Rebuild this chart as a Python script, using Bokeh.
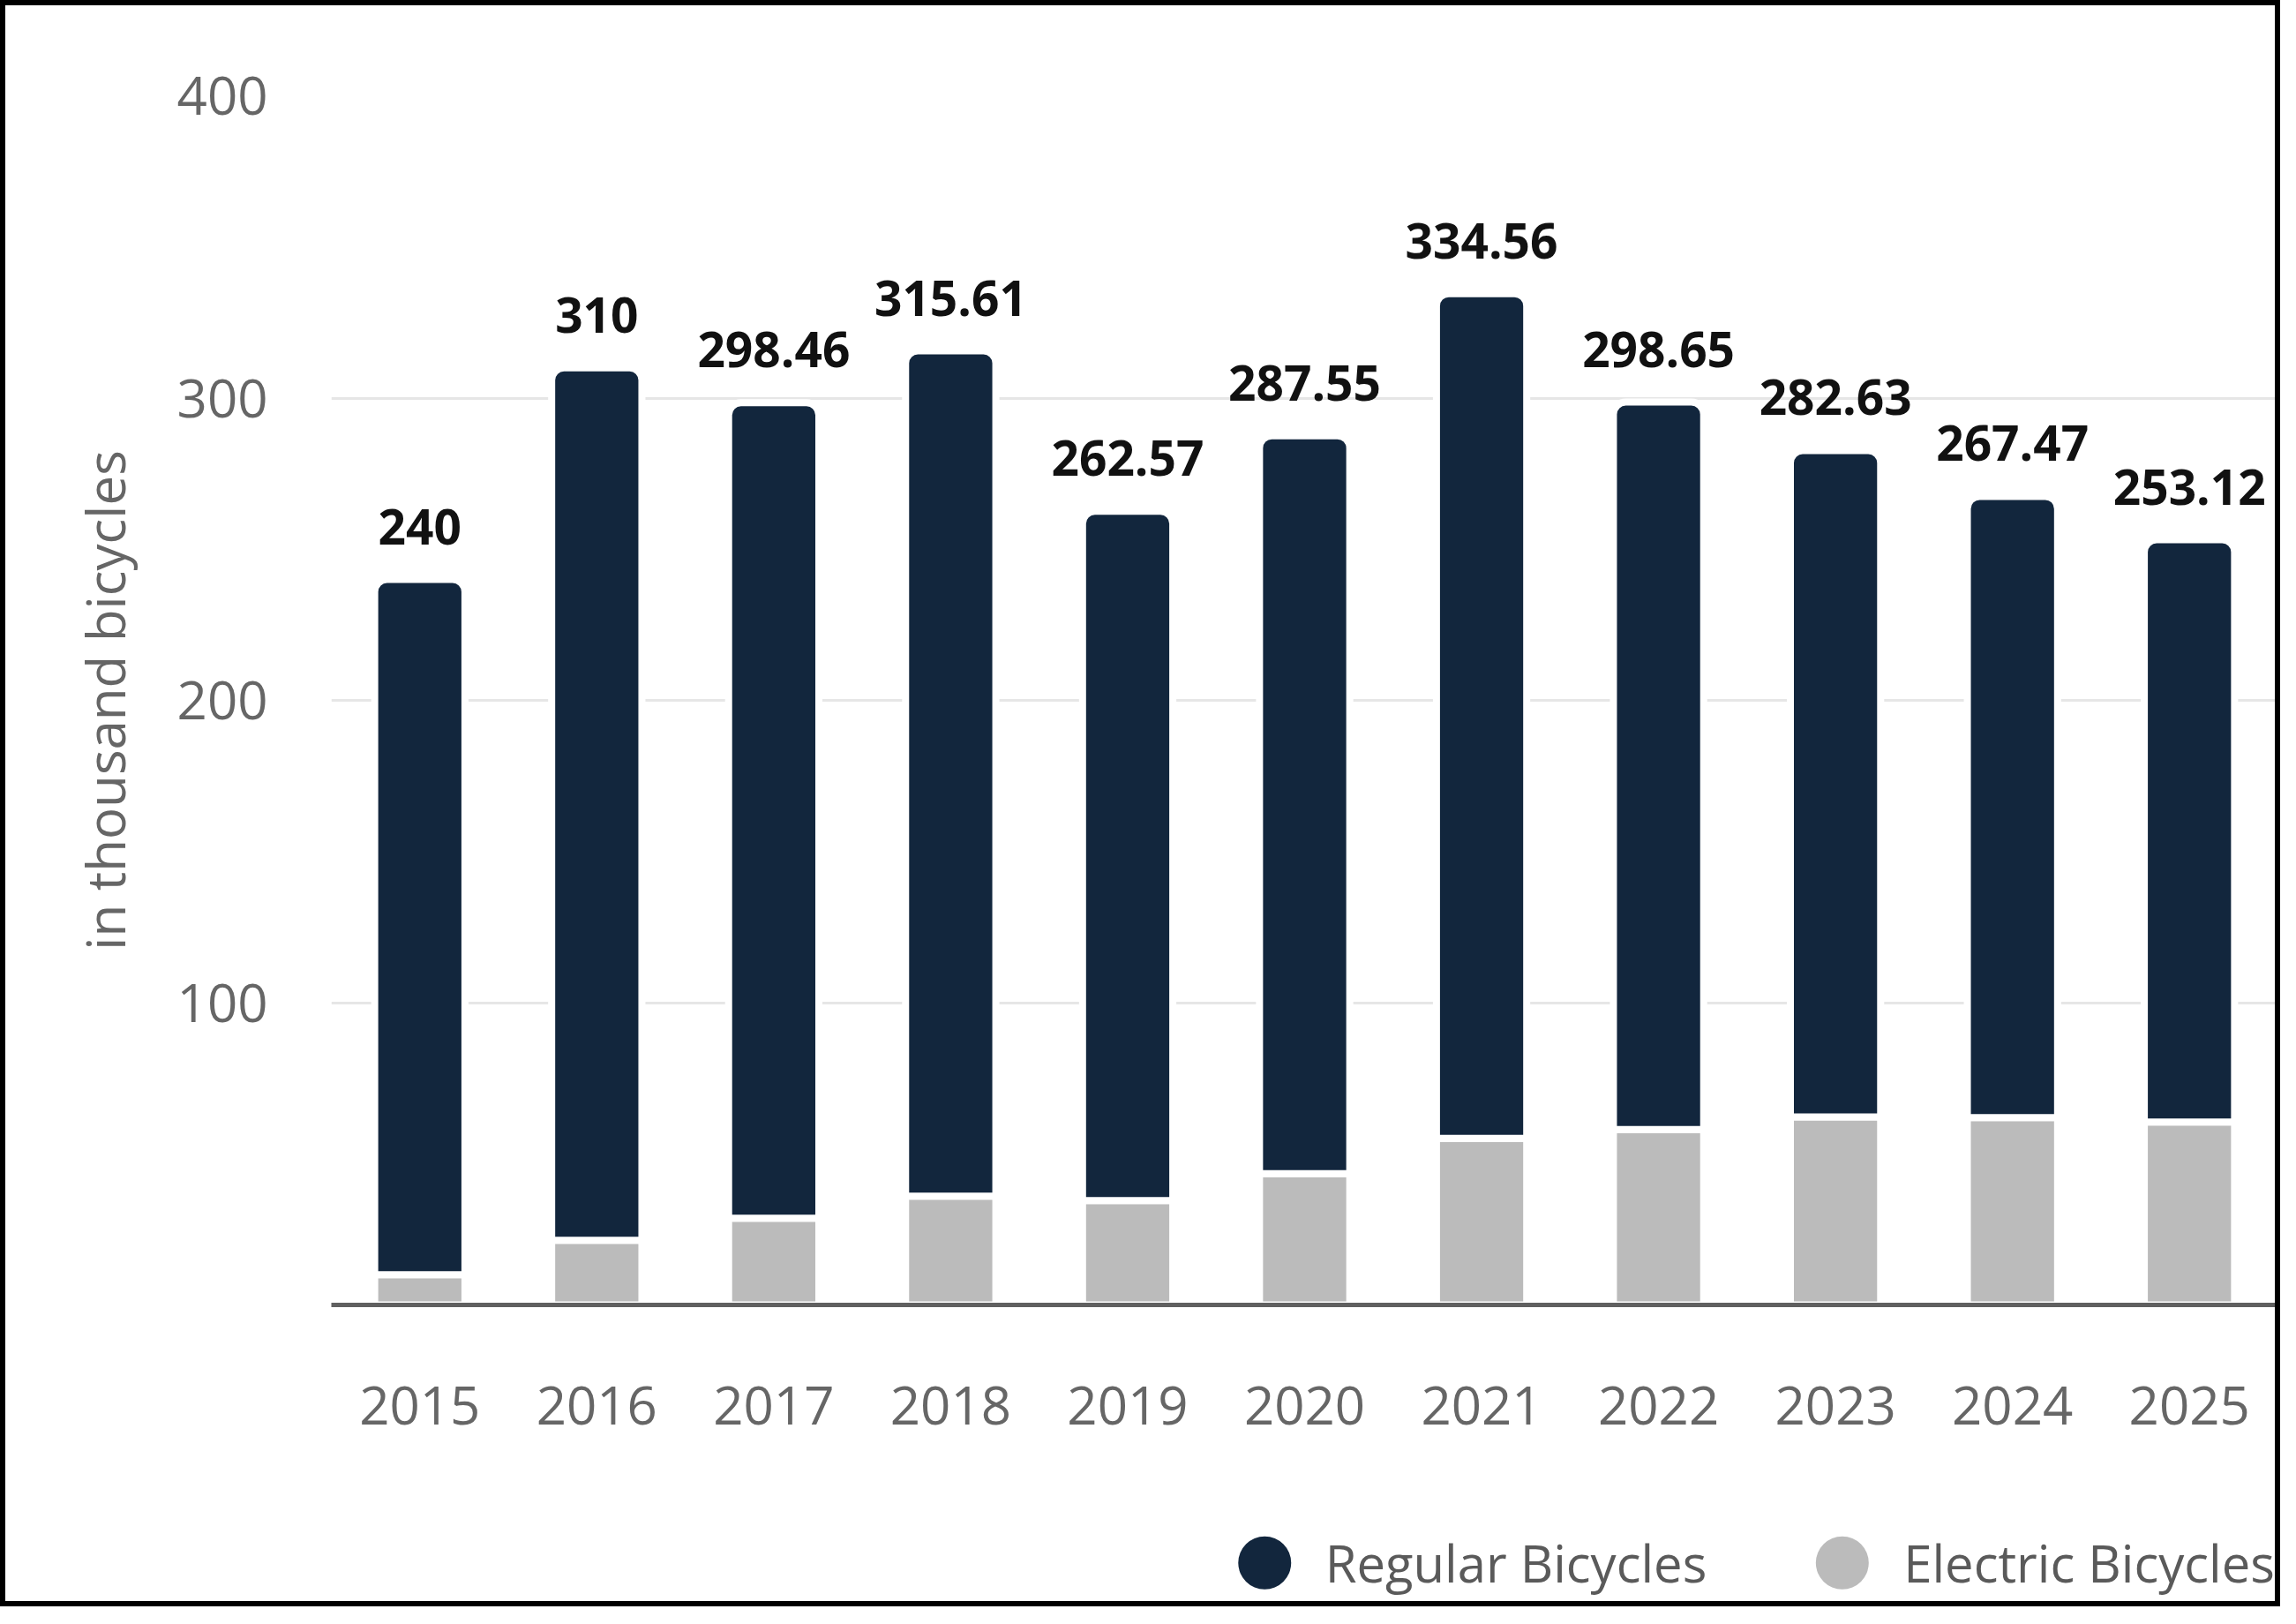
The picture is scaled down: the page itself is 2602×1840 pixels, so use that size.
from bokeh.plotting import figure
from bokeh.layouts import column
from bokeh.models import (FactorRange, Range1d, FixedTicker, ColumnDataSource)
from bokeh.core.properties import value
from bokeh.embed import file_html
from bokeh.resources import INLINE

# ---- data ----
years = ["2015", "2016", "2017", "2018", "2019", "2020",
         "2021", "2022", "2023", "2024", "2025"]
totals = [240, 310, 298.46, 315.61, 262.57, 287.55,
          334.56, 298.65, 282.63, 267.47, 253.12]
total_labels = ["240", "310", "298.46", "315.61", "262.57", "287.55",
                "334.56", "298.65", "282.63", "267.47", "253.12"]
electric = [10, 21.4, 28.7, 36, 34.5, 43.4, 55.1, 58, 62.2, 62, 60.5]
y_ticks = [100, 200, 300, 400]
series_names = ["Regular Bicycles", "Electric Bicycles"]

regular = [t - e for t, e in zip(totals, electric)]

NAVY = "#12263d"
GRAY = "#bbbbbb"
series_colors = [NAVY, GRAY]
TXT = "#666666"
FONT = "Open Sans"
BORDER = "6px solid black"

CANVAS_W = 2572
MB_LEFT, MB_RIGHT = 369, 9
FRAME_W = CANVAS_W - MB_LEFT - MB_RIGHT

src = ColumnDataSource(dict(year=years, total=totals, electric=electric,
                            regular=regular, label=total_labels))

p = figure(x_range=FactorRange(*years, range_padding=0),
           y_range=Range1d(0, 400),
           width=CANVAS_W + 12, height=1654,
           output_backend="svg", toolbar_location=None,
           min_border_left=MB_LEFT, min_border_right=MB_RIGHT,
           min_border_top=102, min_border_bottom=182,
           styles={"border": BORDER, "border-bottom": "none"})
p.outline_line_color = None
p.background_fill_color = "white"
p.border_fill_color = "white"

# grid
p.xgrid.grid_line_color = None
p.ygrid.grid_line_color = "#e6e6e6"
p.ygrid.grid_line_width = 3
p.yaxis.ticker = FixedTicker(ticks=y_ticks)

# y axis
p.yaxis.axis_line_color = None
p.yaxis.major_tick_line_color = None
p.yaxis.minor_tick_line_color = None
p.yaxis.major_label_standoff = 66
p.yaxis.major_label_text_font = FONT
p.yaxis.major_label_text_font_size = "60px"
p.yaxis.major_label_text_color = TXT
p.yaxis.axis_label = "in thousand bicycles"
p.yaxis.axis_label_text_font = FONT
p.yaxis.axis_label_text_font_size = "60px"
p.yaxis.axis_label_text_font_style = "normal"
p.yaxis.axis_label_text_color = TXT
p.yaxis.axis_label_standoff = 38

# x axis
p.xaxis.axis_line_color = "#606060"
p.xaxis.axis_line_width = 5
p.xaxis.major_tick_line_color = None
p.xaxis.minor_tick_line_color = None
p.xaxis.major_label_standoff = 86
p.xaxis.major_label_text_font = FONT
p.xaxis.major_label_text_font_size = "60px"
p.xaxis.major_label_text_color = TXT

# bars
p.vbar(x="year", bottom=0, top="electric", width=0.51, source=src,
       fill_color=GRAY, line_color="white", line_width=8)
p.vbar(x="year", bottom="electric", top="total", width=0.51, source=src,
       fill_color=NAVY, line_color="white", line_width=8,
       border_radius=(14, 14, 0, 0))

# value labels
p.text(x="year", y="total", text="label", source=src,
       text_font=value(FONT), text_font_style="bold", text_font_size="55px",
       text_align="center", text_baseline="alphabetic", y_offset=-60,
       text_color="#111111")

# ---- legend strip (below the chart; its frame is aligned with the chart's) ----
LH = 160
leg = figure(width=CANVAS_W + 12, height=LH + 6,
             x_range=Range1d(0, FRAME_W), y_range=Range1d(0, LH),
             x_axis_type=None, y_axis_type=None,
             output_backend="svg", toolbar_location=None,
             min_border=0, styles={"border": BORDER, "border-top": "none"})
leg.outline_line_color = None
leg.xgrid.visible = False
leg.ygrid.visible = False
leg.background_fill_color = "white"
leg.border_fill_color = "white"

# positions in px from the frame's left edge
marker_x = [1052, 1703]
label_x = [1120, 1772]
row_y = [48, 48]
leg_src = ColumnDataSource(dict(mx=marker_x, lx=label_x, y=row_y,
                                name=series_names, color=series_colors))
leg.scatter(x="mx", y="y", size=60, fill_color="color", line_color=None,
            source=leg_src)
leg.text(x="lx", y="y", text="name", source=leg_src,
         text_font=value(FONT), text_font_size="58px", text_color="#5a5a5a",
         text_align="left", text_baseline="middle")

layout = column(p, leg, spacing=0)

open("out.html", "w").write(file_html(layout, INLINE))
